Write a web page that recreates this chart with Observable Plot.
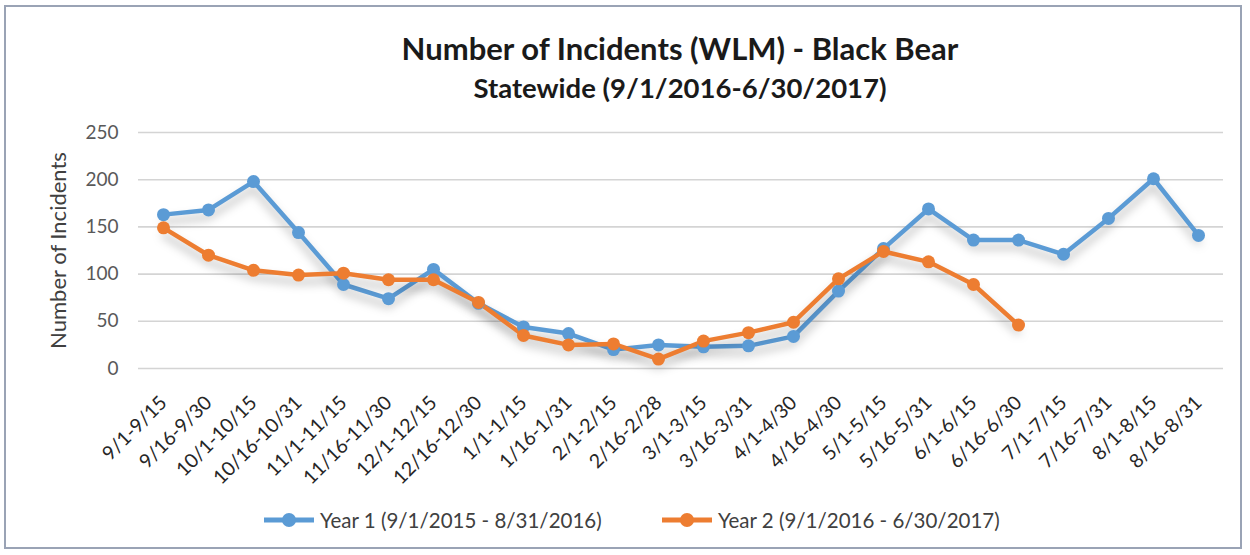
<!DOCTYPE html>
<html>
<head>
<meta charset="utf-8">
<script src="https://cdn.jsdelivr.net/npm/d3@7"></script>
<script src="https://cdn.jsdelivr.net/npm/@observablehq/plot@0.6"></script>
<style>
  html, body { margin: 0; padding: 0; background: #fff; }
  #wrap { position: relative; width: 1250px; height: 555px; overflow: hidden; background: #fff; font-family: Lato, "Open Sans", sans-serif; }
  #frame { position: absolute; left: 4px; top: 5px; width: 1238px; height: 544px; border: 2px solid #9aa3b5; box-sizing: border-box; }
  .title { position: absolute; left: 0; width: 1360px; text-align: center; font-weight: bold; color: #1a1a1a; white-space: nowrap; }
  #t1 { top: 30px; font-size: 31px; line-height: 36px; }
  #t2 { top: 72px; font-size: 27.5px; line-height: 32px; }
  #chart { position: absolute; left: 0; top: 110px; }
  .leg { position: absolute; top: 507px; height: 26px; display: flex; align-items: center; font-size: 20.5px; color: #404040; white-space: nowrap; }
  .leg svg { margin-right: 4px; }
  .lines path { filter: drop-shadow(0px 7px 5px rgba(0,0,0,0.28)); }
</style>
</head>
<body>
<div id="wrap">
  <div id="frame"></div>
  <div class="title" id="t1"></div>
  <div class="title" id="t2"></div>
  <div id="chart"></div>
  <div class="leg" id="leg1" style="left:262px"></div>
  <div class="leg" id="leg2" style="left:660px"></div>
</div>
<script>
const titleText = "Number of Incidents (WLM) - Black Bear";
const subtitleText = "Statewide (9/1/2016-6/30/2017)";
const yAxisLabel = "Number of Incidents";
const categories = ["9/1-9/15","9/16-9/30","10/1-10/15","10/16-10/31","11/1-11/15","11/16-11/30","12/1-12/15","12/16-12/30","1/1-1/15","1/16-1/31","2/1-2/15","2/16-2/28","3/1-3/15","3/16-3/31","4/1-4/30","4/16-4/30","5/1-5/15","5/16-5/31","6/1-6/15","6/16-6/30","7/1-7/15","7/16-7/31","8/1-8/15","8/16-8/31"];
const seriesNames = ["Year 1 (9/1/2015 - 8/31/2016)", "Year 2 (9/1/2016 - 6/30/2017)"];
const year1 = [163,168,198,144,89,74,105,69,44,37,20,25,23,24,34,82,127,169,136,136,121,159,201,141];
const year2 = [149,120,104,99,101,94,94,70,35,25,26,10,29,38,49,95,124,113,89,46];
const yTicks = [0,50,100,150,200,250];
const colors = ["#5B9BD5", "#ED7D31"];

document.getElementById("t1").textContent = titleText;
document.getElementById("t2").textContent = subtitleText;

const data = [
  ...year1.map((v, i) => ({cat: categories[i], value: v, series: seriesNames[0]})),
  ...year2.map((v, i) => ({cat: categories[i], value: v, series: seriesNames[1]}))
];

const chart = Plot.plot({
  width: 1250,
  height: 390,
  marginTop: 22,
  marginBottom: 132,
  marginLeft: 138,
  marginRight: 27,
  style: {fontFamily: "Lato, 'Open Sans', sans-serif", background: "transparent"},
  x: {type: "point", domain: categories, padding: 0.5},
  y: {domain: [0, 250]},
  color: {domain: seriesNames, range: colors},
  marks: [
    Plot.gridY(yTicks, {stroke: "#d4d4d4", strokeOpacity: 1, strokeWidth: 1.6}),
    Plot.axisY(yTicks, {tickSize: 0, tickPadding: 20, fontSize: 19, fill: "#595959", label: yAxisLabel, labelAnchor: "center", labelArrow: "none", labelOffset: 88}),
    Plot.axisX({tickRotate: -45, tickSize: 0, tickPadding: 31, fontSize: 19.5, fill: "#262626", label: null}),
    Plot.line(data, {x: "cat", y: "value", z: "series", stroke: "series", strokeWidth: 4.5, className: "lines"}),
    Plot.dot(data, {x: "cat", y: "value", fill: "series", r: 6.5, className: "lines"})
  ]
});
chart.querySelectorAll('[aria-label="y-axis label"] text').forEach(t => { t.style.fontSize = "22px"; t.setAttribute("fill", "#404040"); });
document.getElementById("chart").appendChild(chart);

function legendItem(id, name, color) {
  const el = document.getElementById(id);
  const ns = "http://www.w3.org/2000/svg";
  const svg = document.createElementNS(ns, "svg");
  svg.setAttribute("width", 54); svg.setAttribute("height", 16);
  const l = document.createElementNS(ns, "line");
  l.setAttribute("x1", 2); l.setAttribute("x2", 52); l.setAttribute("y1", 8); l.setAttribute("y2", 8);
  l.setAttribute("stroke", color); l.setAttribute("stroke-width", 5);
  const c = document.createElementNS(ns, "circle");
  c.setAttribute("cx", 27); c.setAttribute("cy", 8); c.setAttribute("r", 7); c.setAttribute("fill", color);
  svg.appendChild(l); svg.appendChild(c);
  el.appendChild(svg);
  const span = document.createElement("span");
  span.textContent = name;
  el.appendChild(span);
}
legendItem("leg1", seriesNames[0], colors[0]);
legendItem("leg2", seriesNames[1], colors[1]);
</script>
</body>
</html>
